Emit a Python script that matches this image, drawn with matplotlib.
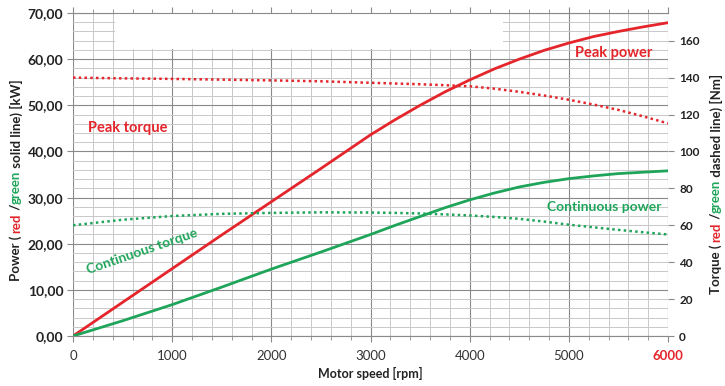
import numpy as np
import matplotlib
matplotlib.use("Agg")
import matplotlib.pyplot as plt
from matplotlib.ticker import MultipleLocator, FuncFormatter
from matplotlib.patches import Rectangle

# Datos
rpm = [0, 500, 1000, 1500, 2000, 2500, 3000, 3250, 3500, 3750, 4000, 4250, 4500,
       4750, 5000, 5250, 5500, 5750, 6000]
peak_power = [0, 7.3, 14.6, 21.9, 29.1, 36.3, 43.6, 46.9, 50.0, 52.9, 55.5, 57.9, 60.0,
              61.9, 63.5, 64.9, 66.0, 67.0, 67.9]
peak_torque = [140, 139.6, 139.3, 138.9, 138.5, 138.0, 137.2, 136.8, 136.4, 135.9, 135.3, 134.0, 132.3,
               130.3, 128.0, 125.4, 122.5, 119.0, 115.2]
cont_power = [0, 3.3, 6.8, 10.6, 14.5, 18.2, 22.0, 24.0, 25.9, 27.8, 29.5, 31.0, 32.3,
              33.3, 34.1, 34.7, 35.2, 35.5, 35.8]
cont_torque = [60, 63, 65, 66.2, 66.7, 67, 66.9, 66.7, 66.4, 65.9, 65.3, 64.5, 63.5,
               62.0, 60.3, 58.9, 57.5, 56.2, 55]
xticks = [0, 1000, 2000, 3000, 4000, 5000, 6000]

RED = '#e4252b'
GREEN = '#1fa55a'
TXT = '#333333'

plt.rcParams['font.family'] = ['Lato', 'DejaVu Sans']

fig = plt.figure(figsize=(7.25, 3.86), dpi=100)
ax = fig.add_axes([0.1007, 0.1295, 0.8207, 0.8368])
ax2 = ax.twinx()

# rejilla
ax.set_xlim(0, 6000)
ax.set_ylim(0, 70)
ax2.set_ylim(0, 175)
ax.set_xticks(xticks)
ax.set_xticklabels([str(v) for v in xticks])
ax.xaxis.set_minor_locator(MultipleLocator(200))
ax.yaxis.set_major_locator(MultipleLocator(10))
ax.yaxis.set_minor_locator(MultipleLocator(2))
ax2.yaxis.set_major_locator(MultipleLocator(20))
ax.grid(True, which='major', color='#8a8a8a', lw=0.8, zorder=0)
ax.grid(True, which='minor', color='#c8c8c8', lw=0.7, zorder=0)
ax.set_axisbelow(True)

# recuadro blanco (título borrado)
ax.add_patch(Rectangle((420, 62.15), 3920, 7.7, facecolor='white', edgecolor='none', zorder=1.5))

# curvas
ax.plot(rpm, peak_power, color=RED, lw=2.0, zorder=3)
ax.plot(rpm, cont_power, color=GREEN, lw=2.0, zorder=3)
ax2.plot(rpm, peak_torque, color=RED, lw=1.8, ls=(0, (1, 1.3)), zorder=3)
ax2.plot(rpm, cont_torque, color=GREEN, lw=1.8, ls=(0, (1, 1.3)), zorder=3)

# ejes y marcas
for a in (ax, ax2):
    for s in a.spines.values():
        s.set_visible(False)
for k in ('bottom', 'top'):
    ax.spines[k].set_visible(True)
    ax.spines[k].set_color('#8a8a8a')

ax.tick_params(axis='x', which='both', direction='out', color='#8a8a8a', top=True, labeltop=False)
ax.tick_params(axis='x', which='major', length=4, labelsize=9.5, labelcolor=TXT, pad=6)
ax.tick_params(axis='x', which='minor', length=3)
ax.tick_params(axis='y', which='major', length=4, color='#8a8a8a', labelsize=10, labelcolor='#222222', pad=3)
ax.tick_params(axis='y', which='minor', length=0)
ax2.tick_params(axis='y', which='major', length=4, color='#8a8a8a', labelsize=8.5, labelcolor='#222222', pad=4)
ax.yaxis.set_major_formatter(FuncFormatter(lambda v, p: f'{v:.2f}'.replace('.', ',')))
for lbl in ax.get_yticklabels():
    lbl.set_fontweight('bold')
for lbl in ax2.get_yticklabels():
    lbl.set_fontweight('bold')
ult = ax.xaxis.get_major_ticks()[-1].label1
ult.set_color(RED)
ult.set_fontweight('bold')

ax.set_xlabel('Motor speed [rpm]', fontsize=9, fontweight='bold', color='#222222', labelpad=4)

# textos
ax.text(150, 45, 'Peak torque', color=RED, fontsize=10.5, fontweight='bold', va='center', zorder=4)
ax.text(5060, 61.3, 'Peak power', color=RED, fontsize=10.5, fontweight='bold', va='center', zorder=4)
ax.text(4780, 28, 'Continuous power', color=GREEN, fontsize=10, fontweight='bold', va='center', zorder=4)
ax.text(700, 18.4, 'Continuous torque', color=GREEN, fontsize=10, fontweight='bold',
        ha='center', va='center', rotation=19, rotation_mode='anchor', zorder=4)

fig.canvas.draw()


def etiqueta_color(xf, ycen_px, partes, size=9.5):
    """Etiqueta vertical con varios colores, apilando trozos."""
    r = fig.canvas.get_renderer()
    txts = []
    for s, c in partes:
        t = fig.text(0, 0, s, color=c, fontsize=size, fontweight='bold', rotation=90,
                     ha='center', va='bottom')
        txts.append(t)
    alturas = [t.get_window_extent(r).height for t in txts]
    y = ycen_px - sum(alturas) / 2
    H = fig.bbox.height
    for t, h in zip(txts, alturas):
        t.set_position((xf, y / H))
        y += h


etiqueta_color(16 / 725, 386 - 180, [('Power ( ', '#222222'), ('red', RED), (' /', '#222222'),
                                     ('green', GREEN), (' solid line) [kW]', '#222222')])
etiqueta_color(716 / 725, 386 - 184, [('Torque ( ', '#222222'), ('red', RED), (' /', '#222222'),
                                      ('green', GREEN), (' dashed line) [Nm]', '#222222')])

plt.savefig('out.png', dpi=100)
